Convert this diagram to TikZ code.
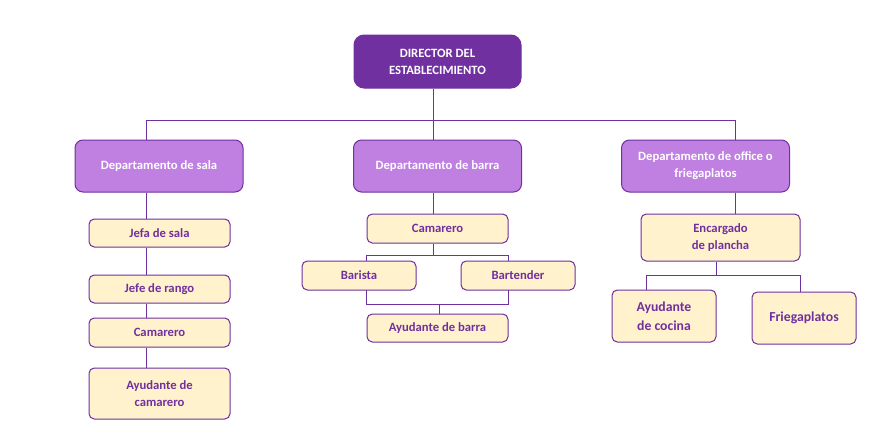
\documentclass[tikz,border=0pt]{standalone}
\usepackage{fontspec}
\setmainfont{Carlito}
\usetikzlibrary{backgrounds}
\definecolor{plum}{HTML}{7030A0}
\definecolor{lilac}{HTML}{BF80E2}
\definecolor{cream}{HTML}{FFF2CC}

\begin{document}
\begin{tikzpicture}[x=0.75pt,y=-0.75pt,font=\fontsize{9.5}{12.75}\selectfont\bfseries,
  box/.style={draw=plum,line width=0.75pt,align=center,inner sep=0pt},
  head/.style={box,fill=plum,text=white,rounded corners=7.5pt},
  dept/.style={box,fill=lilac,text=white,rounded corners=6pt,minimum width=126pt,minimum height=39pt},
  post/.style={box,fill=cream,text=plum,rounded corners=4pt},
  big/.style={font=\fontsize{10.3}{14}\selectfont\bfseries},
  link/.style={plum,line width=0.75pt}]
  \useasboundingbox (0,0) rectangle (888,443);
  % top of the chart
  \node[head,minimum width=125.25pt,minimum height=39.75pt] (dir) at (437.5,61.5)
    {DIRECTOR DEL\\ESTABLECIMIENTO};
  \node[dept] (sala) at (159,166) {Departamento de sala};
  \node[dept] (barra) at (437.5,166) {Departamento de barra};
  \node[dept] (office) at (705.5,166) {Departamento de office o\\friegaplatos};
  % sala
  \node[post,minimum width=105.75pt,minimum height=21pt] (jefa) at (159.5,233) {Jefa de sala};
  \node[post,minimum width=105.75pt,minimum height=21pt] (rango) at (159.5,289) {Jefe de rango};
  \node[post,minimum width=105.75pt,minimum height=21.75pt] (camS) at (159.5,332.5) {Camarero};
  \node[post,minimum width=105.75pt,minimum height=38.25pt] (ayuS) at (159.5,393.5) {Ayudante de\\camarero};
  % barra
  \node[post,minimum width=105.75pt,minimum height=21.75pt] (camB) at (437.5,228.5) {Camarero};
  \node[post,minimum width=85.5pt,minimum height=21.75pt] (barista) at (359,275.5) {Barista};
  \node[post,minimum width=85.5pt,minimum height=21.75pt] (bartender) at (518,275.5) {Bartender};
  \node[post,minimum width=105.75pt,minimum height=21pt] (ayuB) at (437.5,328) {Ayudante de barra};
  % office
  \node[post,minimum width=119.25pt,minimum height=35.25pt] (enc) at (720.5,237.5) {Encargado\\de plancha};
  \node[post,big,minimum width=78pt,minimum height=39pt] (cocina) at (664,316) {Ayudante\\de cocina};
  \node[post,big,minimum width=78pt,minimum height=39pt] (frieg) at (804,318) {Friegaplatos};

  \coordinate (busL) at (146,120); \coordinate (busM) at (433,120); \coordinate (busR) at (735,120);
  \coordinate (splitB) at (433,255); \coordinate (joinB) at (439,304);
  \coordinate (splitO) at (716,275); \coordinate (legL) at (646,275); \coordinate (legR) at (800,275);
  \begin{scope}[on background layer]
    \draw[link] (dir.south -| busM) -- (busM);
    \draw[link] (busL) -- (busR);
    \draw[link] (busL) -- (sala.north -| busL);
    \draw[link] (busM) -- (barra.north -| busM);
    \draw[link] (busR) -- (office.north -| busR);
    \draw[link] (sala.south -| busL) -- (jefa.north -| busL);
    \draw[link] (jefa.south -| busL) -- (rango.north -| busL);
    \draw[link] (rango.south -| busL) -- (camS.north -| busL);
    \draw[link] (camS.south -| busL) -- (ayuS.north -| busL);
    \draw[link] (barra.south -| busM) -- (camB.north -| busM);
    \draw[link] (camB.south -| splitB) -- (splitB);
    \draw[link] (splitB -| camB.west) rectangle (joinB -| camB.east);
    \draw[link] (joinB) -- (ayuB.north -| joinB);
    \draw[link] (office.south -| busR) -- (enc.north -| busR);
    \draw[link] (enc.south -| splitO) -- (splitO);
    \draw[link] (cocina.north -| legL) -- (legL) -- (legR) -- (frieg.north -| legR);
  \end{scope}
\end{tikzpicture}
\end{document}
